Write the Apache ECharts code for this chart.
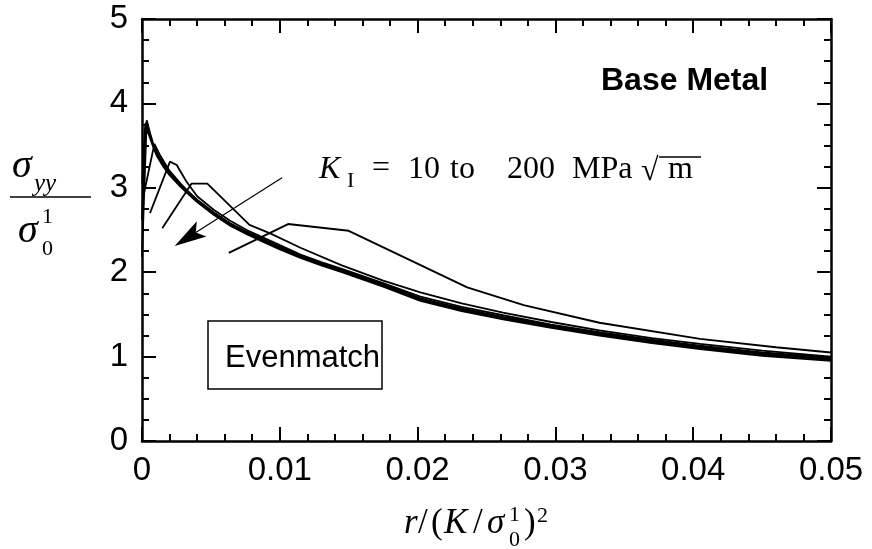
<!DOCTYPE html>
<html>
<head>
<meta charset="utf-8">
<script src="https://cdn.jsdelivr.net/npm/echarts@6/dist/echarts.min.js"></script>
<style>
  html, body { margin: 0; padding: 0; background: #fff; }
  #chart { width: 872px; height: 549px; }
</style>
</head>
<body>
<div id="chart"></div>
<script>
// Normalised distance ahead of the crack tip vs. opening stress, one polyline per K level
const kRange = ['10', '200'];
const xTickValues = [0, 0.01, 0.02, 0.03, 0.04, 0.05];
const yTickValues = [0, 1, 2, 3, 4, 5];

// K = 10 (coarsest in normalised units)
const curveK10 = [[0.0063, 2.23], [0.0106, 2.57], [0.0150, 2.49], [0.0236, 1.82], [0.0277, 1.61],
  [0.0332, 1.40], [0.0405, 1.21], [0.0460, 1.11], [0.05, 1.05]];
const curveK20 = [[0.00147, 2.52], [0.0036, 3.05], [0.00474, 3.05], [0.0078, 2.56], [0.0093, 2.46],
  [0.0115, 2.29], [0.0145, 2.08], [0.0175, 1.90], [0.0202, 1.76], [0.0232, 1.63], [0.0262, 1.52],
  [0.0297, 1.41], [0.0332, 1.31], [0.0370, 1.22], [0.0405, 1.15], [0.0450, 1.07], [0.05, 1.00]];
const curveK30 = [[0.00058, 2.70], [0.00203, 3.31], [0.00252, 3.27], [0.0032, 3.08], [0.0040, 2.90],
  [0.0052, 2.74], [0.0064, 2.61], [0.0076, 2.50], [0.0088, 2.41], [0.0100, 2.32], [0.0115, 2.21],
  [0.0130, 2.12], [0.0145, 2.04], [0.0175, 1.87], [0.0202, 1.71], [0.0232, 1.59], [0.0262, 1.49],
  [0.0297, 1.38], [0.0332, 1.29], [0.0370, 1.20], [0.0405, 1.13], [0.0450, 1.05], [0.05, 0.99]];
const curveK50 = [[0.0001, 2.90], [0.0009, 3.52], [0.0013, 3.39], [0.0020, 3.20], [0.0028, 3.05],
  [0.0034, 2.95], [0.0040, 2.86], [0.0052, 2.71], [0.0064, 2.58], [0.0076, 2.48], [0.0088, 2.39],
  [0.0100, 2.30], [0.0115, 2.20], [0.0130, 2.11], [0.0145, 2.03], [0.0175, 1.86], [0.0202, 1.69],
  [0.0232, 1.57], [0.0262, 1.47], [0.0297, 1.37], [0.0332, 1.28], [0.0370, 1.19], [0.0405, 1.12],
  [0.0450, 1.04], [0.05, 0.98]];
const curveK100 = [[0, 2.18], [0.00034, 3.80], [0.0006, 3.64], [0.0008, 3.53], [0.0011, 3.41],
  [0.00155, 3.29], [0.0020, 3.18], [0.0028, 3.04], [0.0034, 2.94], [0.0040, 2.85], [0.0052, 2.70],
  [0.0064, 2.57], [0.0076, 2.47], [0.0088, 2.38], [0.0100, 2.29], [0.0115, 2.19], [0.0130, 2.10],
  [0.0145, 2.02], [0.0175, 1.85], [0.0202, 1.68], [0.0232, 1.56], [0.0262, 1.46], [0.0297, 1.36],
  [0.0332, 1.27], [0.0370, 1.18], [0.0405, 1.11], [0.0450, 1.03], [0.05, 0.97]];
const curveK150 = [[0, 2.62], [0.00026, 3.77], [0.0005, 3.66], [0.0008, 3.51], [0.0011, 3.39],
  [0.00155, 3.27], [0.0020, 3.17], [0.0028, 3.03], [0.0034, 2.93], [0.0040, 2.84], [0.0052, 2.69],
  [0.0064, 2.56], [0.0076, 2.46], [0.0088, 2.37], [0.0100, 2.28], [0.0115, 2.18], [0.0130, 2.09],
  [0.0145, 2.01], [0.0175, 1.84], [0.0202, 1.67], [0.0232, 1.55], [0.0262, 1.45], [0.0297, 1.35],
  [0.0332, 1.26], [0.0370, 1.17], [0.0405, 1.10], [0.0450, 1.02], [0.05, 0.96]];
const curveK200 = [[0.00002, 3.05], [0.0002, 3.72], [0.0005, 3.63], [0.0008, 3.49], [0.0011, 3.37],
  [0.00155, 3.25], [0.0020, 3.15], [0.0028, 3.01], [0.0034, 2.92], [0.0040, 2.83], [0.0052, 2.68],
  [0.0064, 2.55], [0.0076, 2.45], [0.0088, 2.36], [0.0100, 2.27], [0.0115, 2.17], [0.0130, 2.08],
  [0.0145, 2.00], [0.0175, 1.83], [0.0202, 1.66], [0.0232, 1.54], [0.0262, 1.44], [0.0297, 1.34],
  [0.0332, 1.25], [0.0370, 1.16], [0.0405, 1.09], [0.0450, 1.01], [0.05, 0.95]];

// Arrow showing increasing K: tail and head in data units
const arrowTail = [0.01016, 3.12];
const arrowHead = [0.00237, 2.31];

const curves = [curveK10, curveK20, curveK30, curveK50, curveK100, curveK150, curveK200];

const GRID = { left: 142, right: 41, top: 19, bottom: 108 };
const SANS = '"Liberation Sans", Arial, Helvetica, sans-serif';
const SERIF = '"Liberation Serif", "Times New Roman", serif';

const chart = echarts.init(document.getElementById('chart'), null, { renderer: 'canvas' });

function frameAxis(extra) {
  return Object.assign({
    type: 'value',
    axisLine: { show: true, onZero: false, lineStyle: { color: '#000', width: 2.5 } },
    axisTick: { show: true, inside: true, length: 14, lineStyle: { color: '#000', width: 2 } },
    splitLine: { show: false },
    minorSplitLine: { show: false }
  }, extra);
}

const minorX = { show: true, splitNumber: 5, length: 7, lineStyle: { color: '#000', width: 2 } };
const minorY = { show: true, splitNumber: 4, length: 7, lineStyle: { color: '#000', width: 2 } };

const xLabel = {
  color: '#000', fontFamily: SANS, fontSize: 33, margin: 13,
  formatter: v => (xTickValues.includes(+v.toFixed(2)) ? String(+v.toFixed(2)) : '')
};
const yLabel = {
  color: '#000', fontFamily: SANS, fontSize: 33, margin: 14,
  formatter: v => (yTickValues.includes(v) ? String(v) : '')
};

const option = {
  animation: false,
  backgroundColor: '#fff',
  grid: GRID,
  xAxis: [
    frameAxis({ min: 0, max: 0.05, interval: 0.01, position: 'bottom', minorTick: minorX, axisLabel: xLabel }),
    frameAxis({ min: 0, max: 0.05, interval: 0.01, position: 'top', minorTick: minorX, axisLabel: { show: false } })
  ],
  yAxis: [
    frameAxis({ min: 0, max: 5, interval: 1, position: 'left', minorTick: minorY, axisLabel: yLabel }),
    frameAxis({ min: 0, max: 5, interval: 1, position: 'right', minorTick: minorY, axisLabel: { show: false } })
  ],
  series: curves.map((d, i) => ({
    type: 'line',
    name: 'K' + i,
    data: d,
    xAxisIndex: 0,
    yAxisIndex: 0,
    showSymbol: false,
    symbol: 'none',
    clip: true,
    lineStyle: { color: '#000', width: i === 0 ? 2 : 1.8 },
    z: 3
  }))
};
chart.setOption(option);

// Annotations drawn after layout so the arrow can be anchored to axis coordinates
const tail = chart.convertToPixel({ gridIndex: 0 }, arrowTail);
const tip = chart.convertToPixel({ gridIndex: 0 }, arrowHead);
const dx = tip[0] - tail[0], dy = tip[1] - tail[1];
const len = Math.hypot(dx, dy);
const ux = dx / len, uy = dy / len;
const nx = -uy, ny = ux;
const headLen = 32, headHalf = 9, notch = 25;
const bx = tip[0] - ux * headLen, by = tip[1] - uy * headLen;
const mx = tip[0] - ux * notch, my = tip[1] - uy * notch;

function txt(text, x, y, font) {
  return {
    type: 'text', x, y, z: 20,
    style: { text, font, fill: '#000', textAlign: 'left', textVerticalAlign: 'bottom' }
  };
}

const serifBig = '32px ' + SERIF;
const serifIt = 'italic 32px ' + SERIF;
const serifLab = '35px ' + SERIF;
const serifLabIt = 'italic 35px ' + SERIF;
const serifScript = '22px ' + SERIF;

chart.setOption({
  graphic: [
    // arrow
    { type: 'line', z: 10, shape: { x1: tail[0], y1: tail[1], x2: mx, y2: my }, style: { stroke: '#000', lineWidth: 1.2 } },
    { type: 'polygon', z: 10, shape: { points: [tip, [bx + nx * headHalf, by + ny * headHalf], [mx, my], [bx - nx * headHalf, by - ny * headHalf]] }, style: { fill: '#000' } },

    // K range annotation
    txt('K', 319, 186, serifIt),
    txt('I', 347, 192, serifScript),
    txt('=', 372, 185, serifBig),
    txt(kRange[0], 408, 186, serifBig),
    txt('to', 450, 186, serifBig),
    txt(kRange[1], 507, 186, serifBig),
    txt('MPa', 572, 186, serifBig),
    txt('\u221A', 641, 188, serifBig),
    { type: 'line', z: 20, shape: { x1: 659, y1: 157, x2: 701, y2: 157 }, style: { stroke: '#000', lineWidth: 1.3 } },
    txt('m', 668, 186, serifBig),

    // panel title
    txt('Base Metal', 601, 97, 'bold 32px ' + SANS),

    // weld-match label box
    { type: 'rect', z: 20, shape: { x: 208, y: 321, width: 174, height: 68 }, style: { fill: '#fff', stroke: '#000', lineWidth: 1.5 } },
    txt('Evenmatch', 225, 374, '31px ' + SANS),

    // y-axis label as a stacked fraction
    txt('\u03C3', 12, 186, 'italic 40px ' + SERIF),
    txt('yy', 34, 197, 'italic 25px ' + SERIF),
    { type: 'line', z: 20, shape: { x1: 10, y1: 197, x2: 91, y2: 197 }, style: { stroke: '#000', lineWidth: 1.6 } },
    txt('\u03C3', 18, 251, 'italic 40px ' + SERIF),
    txt('1', 42, 228, serifScript),
    txt('0', 42, 260, serifScript),

    // x-axis label
    txt('r', 404, 541, serifLabIt),
    txt('/', 418, 541, serifLab),
    txt('(', 431, 541, serifLab),
    txt('K', 444, 541, serifLabIt),
    txt('/', 473, 541, serifLab),
    txt('\u03C3', 487, 541, serifLabIt),
    txt('1', 509, 526, serifScript),
    txt('0', 509, 551, serifScript),
    txt(')', 524, 541, serifLab),
    txt('2', 537, 527, serifScript)
  ]
});
</script>
</body>
</html>
